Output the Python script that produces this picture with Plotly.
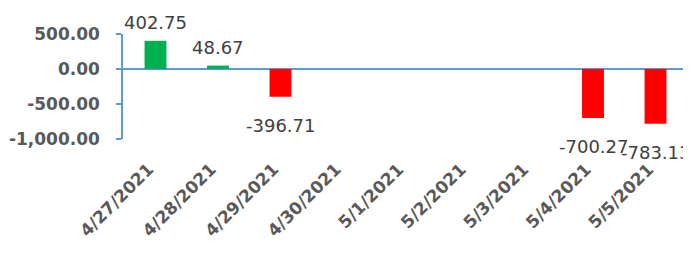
import plotly.graph_objects as go

dates = ["4/27/2021", "4/28/2021", "4/29/2021", "4/30/2021", "5/1/2021",
         "5/2/2021", "5/3/2021", "5/4/2021", "5/5/2021"]
values = [402.75, 48.67, -396.71, None, None, None, None, -700.27, -783.13]
y_tickvals = [500, 0, -500, -1000]
y_ticktext = ["500.00", "0.00", "-500.00", "-1,000.00"]

GREEN = "#00B050"
RED = "#FF0000"
AXIS = "#5B9BD5"

colors = [GREEN if (v is not None and v >= 0) else RED for v in values]

fig = go.Figure(go.Bar(
    x=dates, y=values, marker=dict(color=colors, line=dict(width=0)),
    width=0.35, hoverinfo="skip"
))

for d, v in zip(dates, values):
    if v is None:
        continue
    pos = v >= 0
    fig.add_annotation(
        x=d, y=v, text=f"{v:.2f}", showarrow=False,
        yanchor="bottom" if pos else "top",
        yshift=7 if pos else -17, borderpad=0,
        font=dict(family="DejaVu Sans", size=18, color="#404040"),
    )

# page body has an 8px default margin, so the figure is offset by (8, 8)
fig.update_layout(
    width=683, height=245,
    margin=dict(l=115, r=0, t=26, b=114, autoexpand=False),
    plot_bgcolor="white", paper_bgcolor="white",
    showlegend=False,
    xaxis=dict(
        type="category", showgrid=False, showline=False, zeroline=False,
        automargin=False,
        tickangle=-45, ticks="", ticklabelstandoff=16, ticklabelshift=-7,
        tickfont=dict(family="DejaVu Sans", size=17, color="#595959", weight="bold"),
    ),
    yaxis=dict(
        range=[-1000, 500], tickvals=y_tickvals, ticktext=y_ticktext,
        automargin=False,
        showgrid=False, showline=True, linecolor=AXIS, linewidth=1.5,
        ticks="outside", ticklen=5, tickcolor=AXIS, tickwidth=1.5,
        zeroline=True, zerolinecolor=AXIS, zerolinewidth=1.5,
        ticklabelstandoff=13,
        tickfont=dict(family="DejaVu Sans", size=17, color="#595959", weight="bold"),
    ),
)

fig.write_html("out.html")
